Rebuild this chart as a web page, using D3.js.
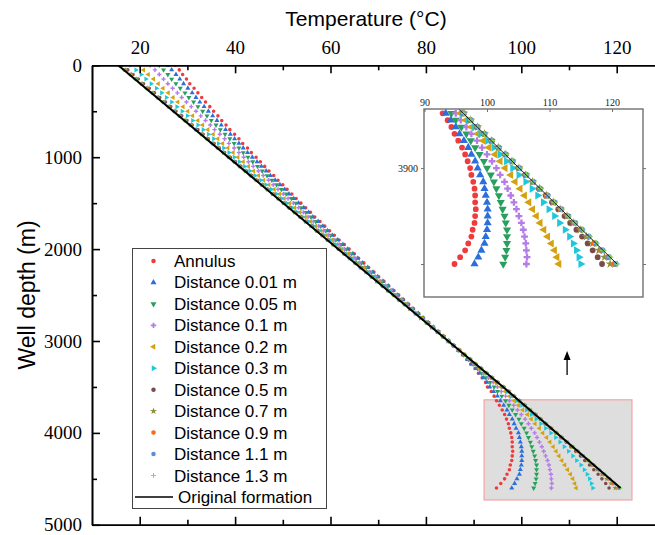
<!DOCTYPE html>
<html><head><meta charset="utf-8">
<script src="https://cdn.jsdelivr.net/npm/d3@7"></script>
<style>body{margin:0;background:#fff}</style>
</head><body><svg id="c" width="655" height="535"></svg>
<script>
const depths = [0,50,100,150,200,250,300,350,400,450,500,550,600,650,700,750,800,850,900,950,1000,1050,1100,1150,1200,1250,1300,1350,1400,1450,1500,1550,1600,1650,1700,1750,1800,1850,1900,1950,2000,2050,2100,2150,2200,2250,2300,2350,2400,2450,2500,2550,2600,2650,2700,2750,2800,2850,2900,2950,3000,3050,3100,3150,3200,3250,3300,3350,3400,3450,3500,3550,3600,3650,3700,3750,3800,3850,3900,3950,4000,4050,4100,4150,4200,4250,4300,4350,4400,4450,4500,4550,4600];

const annulus = [27.5,28.3,29.0,29.8,30.5,31.4,32.2,33.0,33.8,34.7,
35.5,36.4,37.2,38.1,38.9,39.9,40.8,41.6,42.6,43.4,
44.4,45.3,46.2,47.1,48.1,49.0,50.0,50.9,51.9,52.8,
53.8,54.8,55.8,56.7,57.8,58.8,59.8,60.8,61.8,62.9,
63.9,65.0,65.9,67.0,68.0,69.1,70.1,71.2,72.2,73.3,
74.3,75.3,76.4,77.4,78.5,79.5,80.6,81.6,82.7,83.7,
84.8,85.8,86.8,87.7,88.6,89.4,90.3,91.0,91.8,92.5,
92.9,93.7,94.3,94.8,95.4,96.0,96.5,96.9,97.3,97.5,97.8,98.0,98.1,98.1,98.2,98.1,98.0,97.7,97.5,97.0,96.5,95.7,94.8];

const d001 = [25.9,26.7,27.6,28.4,29.2,30.1,31.0,31.8,32.6,33.5,
34.4,35.3,36.2,37.1,38.0,39.0,39.9,40.8,41.7,42.6,
43.6,44.6,45.5,46.5,47.4,48.4,49.4,50.4,51.3,52.3,
53.3,54.4,55.4,56.3,57.4,58.4,59.4,60.4,61.5,62.6,
63.6,64.7,65.7,66.7,67.8,68.9,69.9,71.0,72.1,73.1,
74.1,75.2,76.2,77.3,78.4,79.4,80.5,81.6,82.6,83.7,
84.8,85.8,86.8,87.8,88.7,89.6,90.5,91.3,92.0,92.8,
93.4,94.2,95.0,95.6,96.3,97.0,97.5,98.1,98.5,98.9,99.4,99.6,99.8,100.0,100.1,100.1,100.1,100.0,99.8,99.6,99.1,98.6,98.0];

const d005 = [24.1,25.0,25.9,26.7,27.6,28.5,29.5,30.3,31.3,32.2,
33.2,34.1,35.0,36.0,36.9,37.9,38.9,39.8,40.8,41.7,
42.7,43.7,44.7,45.7,46.7,47.7,48.7,49.7,50.7,51.8,
52.7,53.8,54.8,55.9,56.9,57.9,59.0,60.0,61.1,62.2,
63.3,64.4,65.4,66.5,67.5,68.6,69.7,70.8,71.9,72.9,
73.9,75.0,76.1,77.2,78.3,79.3,80.4,81.5,82.6,83.7,
84.7,85.8,86.9,87.9,88.9,89.9,90.8,91.7,92.6,93.5,
94.3,95.0,95.9,96.7,97.4,98.1,98.8,99.5,100.0,100.6,101.1,101.5,101.9,102.2,102.5,102.8,103.0,103.2,103.2,103.2,103.1,102.9,102.6];

const d01 = [22.2,23.2,24.1,25.0,25.9,26.9,27.9,28.8,29.8,30.8,
31.8,32.8,33.8,34.8,35.7,36.8,37.8,38.7,39.8,40.8,
41.8,42.8,43.8,44.9,45.9,47.0,48.0,49.0,50.1,51.1,
52.2,53.3,54.3,55.3,56.4,57.5,58.6,59.6,60.7,61.8,
62.9,64.0,65.1,66.1,67.2,68.3,69.4,70.5,71.6,72.7,
73.8,74.9,76.0,77.1,78.1,79.3,80.3,81.4,82.5,83.6,
84.7,85.8,86.9,88.0,89.0,90.1,91.1,92.1,93.1,94.1,
95.0,95.8,96.7,97.5,98.4,99.2,100.0,100.8,101.5,102.1,102.8,103.3,103.8,104.3,104.7,105.1,105.5,105.8,106.0,106.2,106.3,106.4,106.3];

const d02 = [19.8,20.8,21.8,22.9,23.9,24.9,26.0,27.0,28.0,29.1,
30.1,31.1,32.2,33.2,34.3,35.4,36.4,37.4,38.5,39.6,
40.6,41.7,42.8,43.9,44.9,46.0,47.1,48.2,49.3,50.3,
51.4,52.5,53.6,54.7,55.8,56.9,58.0,59.1,60.2,61.3,
62.4,63.6,64.6,65.8,66.9,68.0,69.1,70.2,71.3,72.5,
73.5,74.7,75.8,76.9,78.0,79.1,80.2,81.4,82.5,83.6,
84.7,85.8,87.0,88.1,89.2,90.3,91.4,92.4,93.5,94.6,
95.7,96.6,97.5,98.5,99.4,100.3,101.3,102.1,102.9,103.8,104.5,105.3,106.0,106.7,107.3,107.9,108.5,109.1,109.7,110.3,110.8,111.2,111.5];

const d03 = [18.1,19.2,20.3,21.3,22.4,23.5,24.6,25.6,26.7,27.8,
28.9,30.0,31.1,32.2,33.3,34.4,35.5,36.5,37.6,38.7,
39.8,40.9,42.0,43.1,44.2,45.4,46.5,47.6,48.7,49.8,
50.9,52.0,53.1,54.2,55.4,56.5,57.6,58.7,59.9,61.0,
62.1,63.2,64.4,65.5,66.6,67.8,68.9,70.0,71.2,72.3,
73.4,74.5,75.7,76.8,77.9,79.0,80.2,81.3,82.4,83.6,
84.7,85.8,87.0,88.1,89.2,90.4,91.5,92.6,93.7,94.8,
96.0,97.0,98.0,99.0,100.1,101.1,102.1,103.1,104.1,105.1,106.2,107.2,108.1,109.0,109.9,110.8,111.6,112.5,113.2,113.8,114.3,114.7,115.0];

const d05 = [16.3,17.5,18.6,19.7,20.8,22.0,23.1,24.2,25.4,26.5,
27.6,28.8,29.9,31.0,32.2,33.3,34.4,35.6,36.7,37.8,
39.0,40.1,41.2,42.4,43.5,44.7,45.8,46.9,48.1,49.2,
50.3,51.5,52.6,53.8,54.9,56.1,57.2,58.3,59.5,60.6,
61.8,62.9,64.1,65.2,66.4,67.5,68.7,69.8,70.9,72.1,
73.2,74.4,75.5,76.7,77.8,79.0,80.1,81.2,82.4,83.5,
84.7,85.8,87.0,88.1,89.3,90.4,91.6,92.7,93.8,95.0,
96.2,97.3,98.4,99.5,100.7,101.8,102.9,104.0,105.0,106.1,107.3,108.3,109.4,110.4,111.4,112.4,113.3,114.3,115.2,116.1,116.9,117.7,118.4];

const d07 = [16.0,17.1,18.3,19.4,20.5,21.7,22.8,23.9,25.1,26.2,
27.4,28.5,29.7,30.8,31.9,33.1,34.2,35.4,36.5,37.6,
38.8,39.9,41.1,42.2,43.4,44.5,45.7,46.8,47.9,49.1,
50.2,51.4,52.5,53.7,54.8,56.0,57.1,58.3,59.4,60.6,
61.7,62.9,64.0,65.2,66.3,67.5,68.6,69.7,70.9,72.0,
73.2,74.3,75.5,76.6,77.8,78.9,80.1,81.2,82.4,83.5,
84.7,85.8,87.0,88.1,89.3,90.4,91.6,92.7,93.9,95.0,
96.3,97.4,98.5,99.6,100.7,101.8,102.9,104.0,105.1,106.2,107.3,108.4,109.5,110.6,111.7,112.8,113.8,114.9,115.9,116.9,117.9,118.8,119.7];

const d09 = [15.8,16.9,18.1,19.2,20.4,21.5,22.7,23.8,24.9,26.1,
27.2,28.4,29.5,30.7,31.8,33.0,34.1,35.3,36.4,37.6,
38.7,39.8,41.0,42.1,43.3,44.4,45.6,46.7,47.9,49.0,
50.2,51.3,52.5,53.6,54.8,55.9,57.1,58.2,59.4,60.5,
61.7,62.8,64.0,65.1,66.3,67.4,68.6,69.7,70.9,72.0,
73.2,74.3,75.5,76.6,77.8,78.9,80.1,81.2,82.4,83.5,
84.7,85.8,87.0,88.1,89.3,90.5,91.6,92.7,93.9,95.1,
96.3,97.4,98.5,99.6,100.8,101.9,103.0,104.1,105.2,106.3,107.4,108.5,109.6,110.7,111.8,112.9,114.0,115.1,116.2,117.2,118.3,119.3,120.3];

const d11 = [15.7,16.8,18.0,19.1,20.3,21.4,22.6,23.7,24.9,26.0,
27.2,28.3,29.5,30.6,31.7,32.9,34.0,35.2,36.3,37.5,
38.6,39.8,40.9,42.1,43.2,44.4,45.5,46.7,47.8,49.0,
50.1,51.3,52.4,53.6,54.7,55.9,57.0,58.2,59.3,60.5,
61.6,62.8,64.0,65.1,66.2,67.4,68.5,69.7,70.8,72.0,
73.2,74.3,75.5,76.6,77.8,78.9,80.1,81.2,82.4,83.5,
84.7,85.8,87.0,88.1,89.3,90.5,91.6,92.8,93.9,95.1,
96.3,97.4,98.5,99.6,100.8,101.9,103.0,104.1,105.2,106.3,107.4,108.5,109.7,110.8,111.9,113.0,114.1,115.2,116.3,117.4,118.5,119.5,120.6];

const d13 = [15.6,16.7,17.9,19.0,20.2,21.3,22.5,23.6,24.8,25.9,
27.1,28.2,29.4,30.5,31.7,32.9,34.0,35.1,36.3,37.5,
38.6,39.7,40.9,42.0,43.2,44.3,45.5,46.6,47.8,49.0,
50.1,51.2,52.4,53.6,54.7,55.9,57.0,58.2,59.3,60.5,
61.6,62.8,63.9,65.1,66.2,67.4,68.5,69.7,70.8,72.0,
73.1,74.3,75.5,76.6,77.8,78.9,80.1,81.2,82.4,83.5,
84.7,85.8,87.0,88.1,89.3,90.5,91.6,92.8,93.9,95.1,
96.3,97.4,98.5,99.6,100.8,101.9,103.0,104.1,105.2,106.3,107.4,108.6,109.7,110.8,111.9,113.0,114.1,115.3,116.4,117.5,118.6,119.7,120.8];

const formationDepth = [0, 3500, 4600];
const formationTemp = [15.5, 96.2, 120.8];

const seriesNames = ["Annulus","Distance 0.01 m","Distance 0.05 m","Distance 0.1 m","Distance 0.2 m","Distance 0.3 m","Distance 0.5 m","Distance 0.7 m","Distance 0.9 m","Distance 1.1 m","Distance 1.3 m"];
const seriesValues = [annulus, d001, d005, d01, d02, d03, d05, d07, d09, d11, d13];
const formationName = "Original formation";

const xTicksMain = [20,40,60,80,100,120];
const xMinorMain = [30,50,70,90,110];
const yTicksMain = [0,1000,2000,3000,4000,5000];
const yMinorMain = [500,1500,2500,3500,4500];
const insetXTicks = [90,100,110,120];
const insetYTicks = [3900,4600];
const insetYLabels = ["3900",""];
const insetStartDepth = 3500;
const zoomBox = {tMin:92.2, tMax:123.2, zMin:3640, zMax:4730};
const arrowSpec = {t:109.6, zFrom:3370, zTo:3110};

// ---------- styles ----------
const symbolHex = {draw(ctx,size){const r=Math.sqrt(size/2.598);for(let k=0;k<6;k++){const a=Math.PI/3*k+Math.PI/6;const px=r*Math.cos(a),py=r*Math.sin(a);if(k)ctx.lineTo(px,py);else ctx.moveTo(px,py);}ctx.closePath();}};
const symbolPlus = {draw(ctx,size){const r=Math.sqrt(size)*0.62;ctx.moveTo(-r,0);ctx.lineTo(r,0);ctx.moveTo(0,-r);ctx.lineTo(0,r);}};
const markerStyles = [
  {type:d3.symbolCircle,   rot:0,   color:"#ef3b3b"},
  {type:d3.symbolTriangle, rot:0,   color:"#2a6fdb"},
  {type:d3.symbolTriangle, rot:180, color:"#28a05c"},
  {type:d3.symbolCross,    rot:0,   color:"#b57be8"},
  {type:d3.symbolTriangle, rot:-90, color:"#d4a20f"},
  {type:d3.symbolTriangle, rot:90,  color:"#1ec8dc"},
  {type:d3.symbolCircle,   rot:0,   color:"#7b4b4b"},
  {type:d3.symbolStar,     rot:0,   color:"#8f8f3a"},
  {type:symbolHex,         rot:0,   color:"#ff6a13"},
  {type:d3.symbolCircle,   rot:0,   color:"#5a8fd6"},
  {type:symbolPlus,        rot:0,   color:"#86d65a", stroke:true}
];
const serif = "'Liberation Serif','Times New Roman',serif";
const sans = "'Liberation Sans',Arial,sans-serif";

const svg = d3.select("#c");
const W = 655, H = 535;
const x = d3.scaleLinear().domain([10,130]).range([92, 664.4]);
const y = d3.scaleLinear().domain([0,5000]).range([65.3, 524.8]);

svg.append("defs").append("clipPath").attr("id","mainClip")
  .append("rect").attr("x",92).attr("y",65.3).attr("width",W-92).attr("height",524.8-65.3);

const gMain = svg.append("g").attr("clip-path","url(#mainClip)");

// zoom box
gMain.append("rect")
  .attr("x", x(zoomBox.tMin)).attr("y", y(zoomBox.zMin))
  .attr("width", x(zoomBox.tMax)-x(zoomBox.tMin)).attr("height", y(zoomBox.zMax)-y(zoomBox.zMin))
  .attr("fill","#dedede").attr("stroke","#f4a3a3").attr("stroke-width",1.2);

function drawSeries(g, xs, ys, rows, size, sw){
  seriesValues.forEach((vals, si) => {
    const st = markerStyles[si];
    const p = d3.symbol().type(st.type).size(st.type===d3.symbolTriangle?size*1.1:size)();
    const data = rows.map(i => ({z:depths[i], t:vals[i]})).filter(d => d.t!=null);
    g.append("g").selectAll("path").data(data).join("path")
      .attr("d", p)
      .attr("transform", d => `translate(${xs(d.t)},${ys(d.z)}) rotate(${st.rot})`)
      .attr("fill", st.stroke ? "none" : st.color)
      .attr("stroke", st.stroke ? st.color : "none")
      .attr("stroke-width", sw);
  });
}
const allRows = depths.map((d,i)=>i);
drawSeries(gMain, x, y, allRows, 10, 1);

const fLine = d3.line().x(d=>x(d.t)).y(d=>y(d.z));
const fData = formationDepth.map((z,i)=>({z, t:formationTemp[i]}));
gMain.append("path").datum(fData).attr("d", fLine)
  .attr("fill","none").attr("stroke","#000").attr("stroke-width",2);

// axes
function styleAxis(g, fs){
  g.select(".domain").attr("stroke","#000").attr("stroke-width",1.6);
  g.selectAll(".tick line").attr("stroke","#000").attr("stroke-width",1.6);
  g.selectAll("text").attr("font-family", serif).attr("font-size", fs).attr("fill","#000");
}
const fmt = d3.format("d");
const gTop = svg.append("g").attr("transform",`translate(0,${y(0)})`)
  .call(d3.axisTop(x).tickValues(xTicksMain).tickFormat(fmt).tickSizeInner(-8).tickSizeOuter(0).tickPadding(11));
styleAxis(gTop, 19);
const gTopMinor = svg.append("g").attr("transform",`translate(0,${y(0)})`)
  .call(d3.axisTop(x).tickValues(xMinorMain).tickFormat("").tickSizeInner(-5).tickSizeOuter(0));
styleAxis(gTopMinor, 19);
const gBot = svg.append("g").attr("transform",`translate(0,${y(5000)})`)
  .call(d3.axisBottom(x).tickValues(xTicksMain).tickFormat("").tickSizeInner(-8).tickSizeOuter(0));
styleAxis(gBot, 19);
const gBotMinor = svg.append("g").attr("transform",`translate(0,${y(5000)})`)
  .call(d3.axisBottom(x).tickValues(xMinorMain).tickFormat("").tickSizeInner(-5).tickSizeOuter(0));
styleAxis(gBotMinor, 19);
const gLeft = svg.append("g").attr("transform",`translate(${x(10)},0)`)
  .call(d3.axisLeft(y).tickValues(yTicksMain).tickFormat(fmt).tickSizeInner(-8).tickSizeOuter(0).tickPadding(10));
styleAxis(gLeft, 19);
const gLeftMinor = svg.append("g").attr("transform",`translate(${x(10)},0)`)
  .call(d3.axisLeft(y).tickValues(yMinorMain).tickFormat("").tickSizeInner(-5).tickSizeOuter(0));
styleAxis(gLeftMinor, 19);

// titles
svg.append("text").attr("x",366).attr("y",26).attr("text-anchor","middle")
  .attr("font-family",sans).attr("font-size",21).text("Temperature (°C)");
svg.append("text").attr("transform","translate(35,295) rotate(-90)").attr("text-anchor","middle")
  .attr("font-family",sans).attr("font-size",23).text("Well depth (m)");

// arrow
const ax = x(arrowSpec.t);
svg.append("line").attr("x1",ax).attr("x2",ax).attr("y1",y(arrowSpec.zFrom)).attr("y2",y(arrowSpec.zTo)+6)
  .attr("stroke","#000").attr("stroke-width",1.3);
svg.append("path").attr("d",`M${ax},${y(arrowSpec.zTo)} L${ax-3.5},${y(arrowSpec.zTo)+9} L${ax+3.5},${y(arrowSpec.zTo)+9} Z`).attr("fill","#000");

// legend
const lg = svg.append("g");
lg.append("rect").attr("x",132.5).attr("y",248.5).attr("width",194).attr("height",260)
  .attr("fill","#fff").attr("stroke","#444").attr("stroke-width",1);
seriesNames.forEach((name,i)=>{
  const st = markerStyles[i];
  const yy = 261 + i*21.45;
  lg.append("path").attr("d", d3.symbol().type(st.type).size(16)())
    .attr("transform",`translate(153.5,${yy}) rotate(${st.rot})`)
    .attr("fill", st.stroke?"none":st.color).attr("stroke", st.stroke?st.color:"none").attr("stroke-width",1);
  lg.append("text").attr("x",174).attr("y",yy+6).attr("font-family",sans).attr("font-size",17).text(name);
});
const fy = 261 + 11*21.45;
lg.append("line").attr("x1",135).attr("x2",173).attr("y1",fy).attr("y2",fy).attr("stroke","#000").attr("stroke-width",1.6);
lg.append("text").attr("x",178).attr("y",fy+6).attr("font-family",sans).attr("font-size",17).text(formationName);

// inset
const I = {x0:424, y0:109, x1:643, y1:297};
const ix = d3.scaleLinear().domain([90,125]).range([424.5, 643.3]);
const iy = d3.scaleLinear().domain([3500,4600]).range([113.3, 264]);
svg.append("rect").attr("x",I.x0).attr("y",I.y0).attr("width",I.x1-I.x0).attr("height",I.y1-I.y0).attr("fill","#fff");
svg.select("defs").append("clipPath").attr("id","insetClip")
  .append("rect").attr("x",I.x0).attr("y",I.y0).attr("width",I.x1-I.x0).attr("height",I.y1-I.y0);
const gIn = svg.append("g").attr("clip-path","url(#insetClip)");
const insetRows = allRows.filter(i => depths[i] >= insetStartDepth);
drawSeries(gIn, ix, iy, insetRows, 26, 1.2);
gIn.append("path").datum(fData).attr("d", d3.line().x(d=>ix(d.t)).y(d=>iy(d.z)))
  .attr("fill","none").attr("stroke","#222").attr("stroke-width",1);
svg.append("rect").attr("x",I.x0).attr("y",I.y0).attr("width",I.x1-I.x0).attr("height",I.y1-I.y0)
  .attr("fill","none").attr("stroke","#707070").attr("stroke-width",1.4);
function styleInset(g){
  g.select(".domain").remove();
  g.selectAll(".tick line").attr("stroke","#707070").attr("stroke-width",1);
  g.selectAll("text").attr("font-family",serif).attr("font-size",10).attr("fill","#222");
}
const giTop = svg.append("g").attr("transform",`translate(0,${I.y0})`)
  .call(d3.axisTop(ix).tickValues(insetXTicks).tickSizeInner(-3).tickSizeOuter(0).tickPadding(3));
styleInset(giTop);
const giLeft = svg.append("g").attr("transform",`translate(${I.x0},0)`)
  .call(d3.axisLeft(iy).tickValues(insetYTicks).tickFormat((d,i)=>insetYLabels[i]).tickSizeInner(3).tickSizeOuter(0).tickPadding(3));
styleInset(giLeft);
const giRight = svg.append("g").attr("transform",`translate(${I.x1},0)`)
  .call(d3.axisRight(iy).tickValues(insetYTicks).tickFormat("").tickSizeInner(3).tickSizeOuter(0));
styleInset(giRight);
</script>
</body></html>
